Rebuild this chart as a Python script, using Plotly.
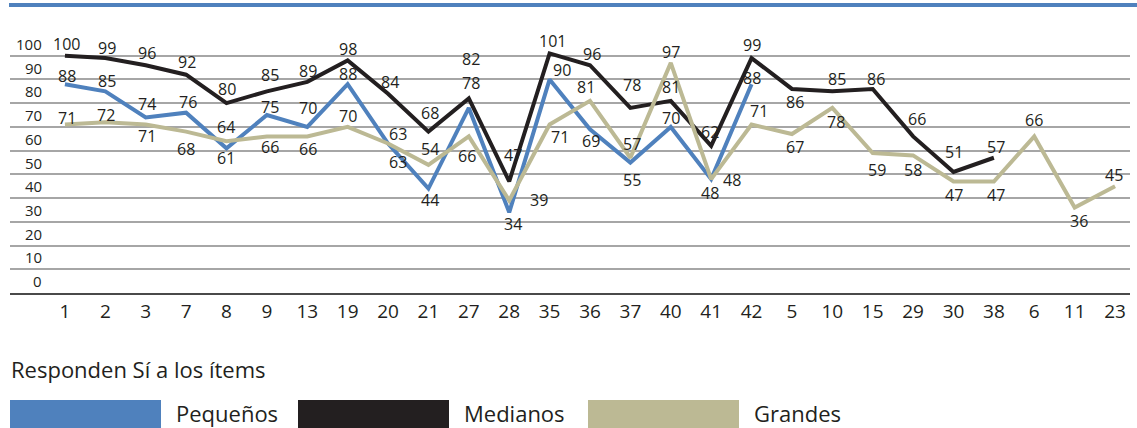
import plotly.graph_objects as go

categories = ["1", "2", "3", "7", "8", "9", "13", "19", "20", "21", "27", "28", "35", "36",
              "37", "40", "41", "42", "5", "10", "15", "29", "30", "38", "6", "11", "23"]

pequenos = [88, 85, 74, 76, 61, 75, 70, 88, 63, 44, 78, 34, 90, 69, 55, 70, 48, 88]
medianos = [100, 99, 96, 92, 80, 85, 89, 98, 84, 68, 82, 47, 101, 96, 78, 81, 62, 99,
            86, 85, 86, 66, 51, 57]
grandes = [71, 72, 71, 68, 64, 66, 66, 70, 63, 54, 66, 39, 71, 81, 57, 97, 48, 71,
           67, 78, 59, 58, 47, 47, 66, 36, 45]

# label offsets in pixels (dx right, dy down) relative to each point
off_pequenos = [(2, -8), (2, -10), (1, -13), (2, -11), (0, 10), (3, -8), (1, -19), (0, -10),
                (10, 18), (2, 11), (2, -25), (4, 12), (12, -9), (1, 12), (2, 17), (0, -9),
                (-1, 14), (0, -6)]
off_medianos = [(2, -12), (2, -10), (1, -12), (1, -13), (1, -14), (3, -16), (1, -11), (0, -11),
                (2, -12), (2, -19), (2, -39), (4, -26), (3, -12), (2, -11), (2, -23), (0, -14),
                (-1, -14), (0, -13), (3, 13), (5, -12), (3, -10), (4, -17), (0, -20), (2, -11)]
off_grandes = [(2, -7), (1, -7), (1, 11), (0, 17), (0, -14), (3, 11), (1, 13), (0, -11),
               (10, -10), (2, -16), (-2, 20), (30, 0), (10, 12), (-4, -14), (2, -14), (0, -11),
               (21, 1), (7, -14), (3, 13), (4, 14), (4, 17), (0, 15), (0, 14), (2, 14),
               (0, -16), (4, 13), (-1, -11)]

y_tick_values = [0, 10, 20, 30, 40, 50, 60, 70, 80, 90, 100]

series_names = ["Pequeños", "Medianos", "Grandes"]
colors = ["#4f81bd", "#231f20", "#bcb994"]
legend_title = "Responden Sí a los ítems"

FONT = "Open Sans"
TXT = "#231f20"
W, H = 1137, 428
ML, MR, MT, MB = 10, 7, 32, 135
PW, PH = W - ML - MR, H - MT - MB


def px(x):
    return (x - ML) / PW


def py(y):
    return (H - MB - y) / PH


fig = go.Figure()
series = [(series_names[0], pequenos, colors[0], off_pequenos),
          (series_names[1], medianos, colors[1], off_medianos),
          (series_names[2], grandes, colors[2], off_grandes)]
for name, vals, col, offs in series:
    cats = categories[:len(vals)]
    fig.add_trace(go.Scatter(
        x=cats, y=vals, mode="lines", name=name,
        line=dict(color=col, width=4), showlegend=False, cliponaxis=False,
    ))
for name, vals, col, offs in series:
    # on a category axis annotations are positioned by category index
    for i, (v, (dx, dy)) in enumerate(zip(vals, offs)):
        fig.add_annotation(x=i, y=v, xref="x", yref="y", text=str(v), showarrow=False,
                           xanchor="center", yanchor="middle", xshift=dx, yshift=-dy,
                           font=dict(family=FONT, size=16, color=TXT))

# y labels placed halfway between gridlines
for v in y_tick_values:
    fig.add_annotation(x=px(44), xref="paper", y=v + 5, yref="y", text=str(v),
                       showarrow=False, xanchor="right", yanchor="middle",
                       font=dict(family=FONT, size=15, color=TXT))

# top blue rule
fig.add_shape(type="rect", xref="paper", yref="paper", x0=px(9), x1=px(1137),
              y0=py(7), y1=py(3), fillcolor=colors[0], line_width=0)

# legend
fig.add_annotation(x=px(9), xref="paper", y=py(369), yref="paper", text=legend_title,
                   showarrow=False, xanchor="left", yanchor="middle",
                   font=dict(family=FONT, size=22, color=TXT))
sw = [(10, 161, 174), (298, 449, 462), (588, 739, 752)]
for (x0, x1, tx), name, col in zip(sw, series_names, colors):
    fig.add_shape(type="rect", xref="paper", yref="paper", x0=px(x0), x1=px(x1),
                  y0=py(428), y1=py(400), fillcolor=col, line_width=0)
    fig.add_annotation(x=px(tx), xref="paper", y=py(413), yref="paper", text=name,
                       showarrow=False, xanchor="left", yanchor="middle",
                       font=dict(family=FONT, size=22, color=TXT))

fig.update_layout(
    width=W, height=H, margin=dict(l=ML, r=MR, t=MT, b=MB),
    paper_bgcolor="white", plot_bgcolor="white",
    font=dict(family=FONT, color=TXT),
    xaxis=dict(type="category", range=[-1.36, 26.37], showgrid=False,
               showline=True, linecolor="#4a4a4a", linewidth=2,
               ticks="", tickfont=dict(family=FONT, size=19, color=TXT), zeroline=False),
    yaxis=dict(range=[0, 110], showticklabels=False, showgrid=True,
               tickvals=[10, 20, 30, 40, 50, 60, 70, 80, 90, 100],
               gridcolor="#a6a6a6", gridwidth=1.5, zeroline=False, showline=False),
)

fig.write_html("out.html")
